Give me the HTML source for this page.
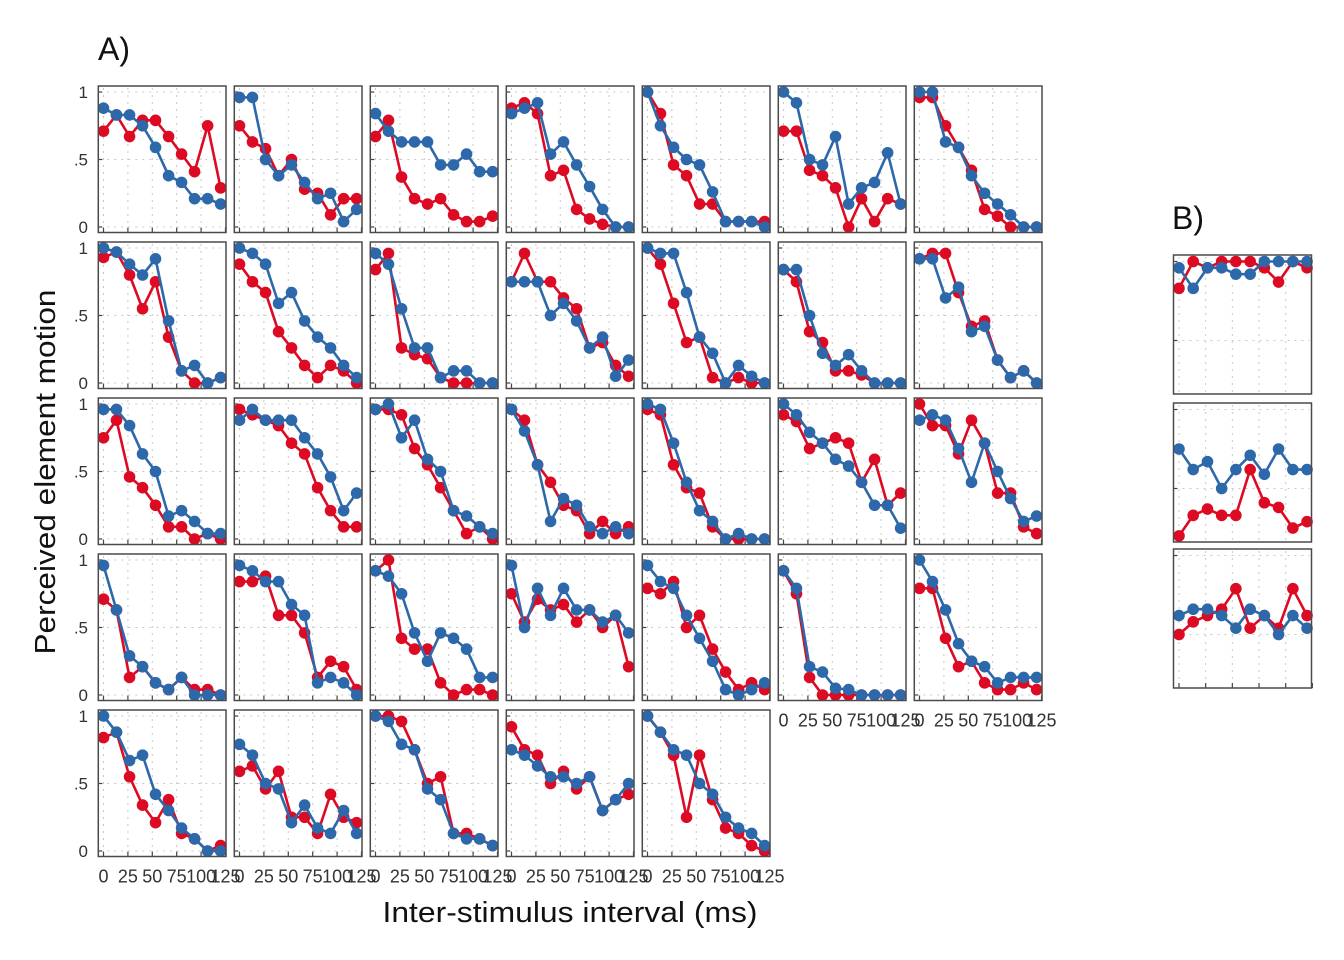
<!DOCTYPE html>
<html><head><meta charset="utf-8"><style>
html,body{margin:0;padding:0;background:#fff}
svg{display:block;font-family:"Liberation Sans",sans-serif}
</style></head><body>
<svg id="chart" width="1344" height="960" viewBox="0 0 1344 960" xmlns="http://www.w3.org/2000/svg">
<text x="98" y="60" font-size="32" fill="#111">A)</text>
<text x="1172" y="229" font-size="32" fill="#111">B)</text>
<text transform="translate(55,472) rotate(-90)" text-anchor="middle" font-size="29" textLength="365" lengthAdjust="spacingAndGlyphs" fill="#111">Perceived element motion</text>
<text x="570" y="922" text-anchor="middle" font-size="29" textLength="375" lengthAdjust="spacingAndGlyphs" fill="#111">Inter-stimulus interval (ms)</text>
<g id="plots"></g>
</svg>
<script>
const isi = [0,13.3,26.7,40,53.3,66.7,80,93.3,106.7,120];
const xTicks = [0,25,50,75,100,125];
const yTicks = [0,0.5,1];
const yTickLabels = ["0",".5","1"];
const redSeries = [
[.71,.83,.67,.79,.79,.67,.54,.41,.75,.29],
[.75,.63,.58,.38,.5,.28,.25,.09,.21,.21],
[.67,.79,.37,.21,.17,.21,.09,.04,.04,.08],
[.88,.92,.84,.38,.42,.13,.06,.02,0,0],
[1,.84,.46,.38,.17,.17,.04,.04,.04,.04],
[.71,.71,.42,.38,.29,0,.21,.04,.21,.17],
[.96,.96,.75,.59,.42,.13,.08,0,0,0],
[.93,.97,.8,.55,.75,.34,.09,0,0,.04],
[.88,.75,.67,.38,.26,.13,.04,.13,.09,0],
[.84,.96,.26,.21,.18,.04,0,0,0,0],
[.75,.96,.75,.75,.63,.55,.26,.3,.13,.05],
[1,.88,.59,.3,.34,.04,0,.04,0,0],
[.84,.75,.38,.3,.09,.09,.06,0,0,0],
[.92,.96,.96,.67,.42,.46,.17,.04,.09,0],
[.75,.88,.46,.38,.25,.09,.09,0,.04,0],
[.96,.92,.88,.84,.71,.63,.38,.21,.09,.09],
[.96,.96,.92,.67,.55,.38,.21,.04,.09,0],
[.96,.88,.55,.42,.25,.21,.04,.13,.04,.09],
[.96,.92,.55,.38,.34,.09,0,0,0,0],
[.92,.87,.67,.71,.75,.71,.42,.59,.25,.34],
[1,.84,.84,.63,.88,.71,.34,.34,.09,.04],
[.71,.63,.13,.21,.09,.04,.13,.04,.04,0],
[.84,.84,.88,.59,.59,.46,.13,.25,.21,.04],
[.92,1,.42,.34,.34,.09,0,.04,.04,0],
[.75,.54,.71,.63,.67,.54,.63,.5,.59,.21],
[.79,.75,.84,.5,.59,.34,.17,.04,.09,.04],
[.92,.75,.13,0,0,0,0,0,0,0],
[.79,.79,.42,.21,.25,.09,.04,.04,.09,.04],
[.84,.88,.55,.34,.21,.38,.13,.09,0,.04],
[.59,.63,.46,.59,.25,.25,.13,.42,.25,.21],
[1,1,.96,.75,.5,.55,.13,.13,.09,.04],
[.92,.75,.71,.5,.59,.46,.55,.3,.38,.42],
[1,.88,.71,.25,.71,.38,.17,.13,.04,0]
];
const blueSeries = [
[.88,.83,.83,.75,.59,.38,.33,.21,.21,.17],
[.96,.96,.5,.38,.46,.33,.21,.25,.04,.13],
[.84,.71,.63,.63,.63,.46,.46,.54,.41,.41],
[.84,.88,.92,.54,.63,.46,.3,.13,0,0],
[1,.75,.59,.5,.46,.26,.04,.04,.04,0],
[1,.92,.5,.46,.67,.17,.29,.33,.55,.17],
[1,1,.63,.59,.38,.25,.17,.09,0,0],
[1,.97,.88,.8,.92,.46,.09,.13,0,.04],
[1,.96,.88,.59,.67,.46,.34,.26,.13,.04],
[.96,.88,.55,.26,.26,.04,.09,.09,0,0],
[.75,.75,.75,.5,.59,.46,.26,.34,.05,.17],
[1,.96,.96,.67,.34,.22,0,.13,.05,0],
[.84,.84,.5,.22,.13,.21,.09,0,0,0],
[.92,.92,.63,.71,.38,.42,.17,.04,.09,0],
[.96,.96,.84,.63,.5,.17,.21,.13,.04,.04],
[.88,.96,.88,.88,.88,.75,.63,.46,.21,.34],
[.96,1,.75,.88,.59,.5,.21,.17,.09,.04],
[.96,.8,.55,.13,.3,.25,.09,.04,.09,.04],
[1,.96,.71,.42,.21,.13,0,.04,0,0],
[1,.92,.79,.71,.59,.54,.42,.25,.25,.08],
[.88,.92,.88,.67,.42,.71,.5,.3,.13,.17],
[.96,.63,.29,.21,.09,.04,.13,0,0,0],
[.96,.92,.84,.84,.67,.59,.09,.13,.09,0],
[.92,.88,.75,.46,.25,.46,.42,.34,.13,.13],
[.96,.5,.79,.59,.79,.63,.63,.54,.59,.46],
[.96,.84,.79,.59,.42,.25,.04,0,.04,.09],
[.92,.79,.21,.17,.05,.04,0,0,0,0],
[1,.84,.63,.38,.25,.21,.09,.13,.13,.13],
[1,.88,.67,.71,.42,.3,.17,.09,0,0],
[.79,.71,.5,.46,.21,.34,.17,.13,.3,.13],
[1,.96,.79,.75,.46,.38,.13,.09,.09,.04],
[.75,.71,.63,.55,.55,.5,.55,.3,.38,.5],
[1,.88,.75,.71,.5,.42,.25,.17,.13,.04]
];
const bRed = [
[.83,1,.96,1,1,1,.96,.87,1,.96],
[.2,.33,.37,.33,.33,.62,.41,.38,.25,.29],
[.5,.58,.62,.66,.79,.54,.62,.54,.79,.62]
];
const bBlue = [
[.96,.83,.96,.96,.92,.92,1,1,1,1],
[.75,.62,.67,.5,.62,.71,.59,.75,.62,.62],
[.62,.66,.66,.62,.54,.66,.62,.5,.62,.54]
];
const RED="#dc0a23", BLUE="#2c68aa";
const NS="http://www.w3.org/2000/svg";
const root=document.getElementById('plots');
function mk(tag,attrs,parent){const e=document.createElementNS(NS,tag);for(const k in attrs)e.setAttribute(k,attrs[k]);(parent||root).appendChild(e);return e;}

function panel(left,top,w,h,yTop,yBot,ms0,pxPerMs,red,blue,opts){
  const g=mk('g',{});
  
  
  const xs=v=>left+ms0+v*pxPerMs;
  const ys=v=>top+yTop+(1-v)*(yBot-yTop);
  const inside=y=>y>=top && y<=top+h;
  [0,25,50,75,100].forEach(t=>{mk('line',{x1:xs(t),x2:xs(t),y1:top+2,y2:top+h-2,stroke:"#c8c8c8","stroke-width":1,"stroke-dasharray":"2,5"},g);});
  [1,0.5,0].forEach(t=>{if(inside(ys(t)))mk('line',{x1:left+2,x2:left+w-2,y1:ys(t),y2:ys(t),stroke:"#c8c8c8","stroke-width":1,"stroke-dasharray":"2,5"},g);});
  yTicks.forEach(t=>{if(inside(ys(t)))mk('line',{x1:left,x2:left+4,y1:ys(t),y2:ys(t),stroke:"#444","stroke-width":1.2},g);});
  if(opts.xticks) xTicks.forEach(t=>{mk('line',{x1:xs(t),x2:xs(t),y1:top+h,y2:top+h-5,stroke:"#444","stroke-width":1.2},g);});
  [[red,RED,'red'],[blue,BLUE,'blue']].forEach(([arr,col,nm])=>{
    const pts=arr.map((v,i)=>xs(isi[i])+","+ys(v)).join(" ");
    const pl=mk('polyline',{points:pts,fill:"none",stroke:col,"stroke-width":2.6,"stroke-linejoin":"round"},g);
    
    
    arr.forEach((v,i)=>{
      const c=mk('circle',{cx:xs(isi[i]),cy:ys(v),r:5.8,fill:col},g);
      
      
    });
  });
  const fr=mk('rect',{x:left,y:top,width:w,height:h,fill:"none",stroke:"#4a4a4a","stroke-width":1.5},g);
  
  
  return {xs,ys};
}

const colL=[98.3,234.3,370.3,506.3,642.3,778.3,914.3];
const rowT=[86,242,398,554,710];
for(let k=0;k<33;k++){
  const r=Math.floor(k/7), c=k%7;
  const L=colL[c], T=rowT[r];
  const {xs,ys}=panel(L,T,127.7,146.5,6,141,5.2,0.976,redSeries[k],blueSeries[k],{name:'subject-panel-'+(k+1),xticks:true});
  if(c===0){
    yTicks.forEach((t,i)=>{
      const tx=mk('text',{x:88,y:ys(t)+6,"text-anchor":"end","font-size":17,fill:"#333"});
      tx.textContent=yTickLabels[i];
      
      
    });
  }
  const bottom = (r===4) || (r===3 && c>=5);
  if(bottom){
    xTicks.forEach(t=>{
      const tx=mk('text',{x:xs(t),y:T+146.5+26,"text-anchor":"middle","font-size":18,fill:"#333"});
      tx.textContent=String(t);
      
      
    });
  }
}
const bTop=[255,403,549];
for(let k=0;k<3;k++){
  panel(1173.5,bTop[k],138,139,6.5,164.5,5.5,1.067,bRed[k],bBlue[k],{name:'group-panel-'+(k+1),xticks:k===2});
}
</script>
</body></html>
